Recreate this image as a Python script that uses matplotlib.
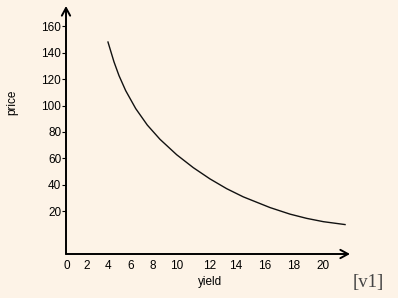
import numpy as np
import matplotlib
matplotlib.use("Agg")
import matplotlib.pyplot as plt

# price vs yield curve
yields = [3.97, 4.50, 4.94, 5.53, 6.44, 7.53, 8.63, 10.00, 11.02, 12.05,
          13.30, 14.50, 16.35, 17.77, 18.91, 20.04, 21.52]
prices = [148.1, 133.1, 122.7, 111.3, 97.7, 85.2, 74.4, 62.7, 52.9, 44.4,
          37.0, 30.8, 22.7, 17.7, 14.5, 12.0, 9.8]

x_ticks = [0, 2, 4, 6, 8, 10, 12, 14, 16, 18, 20]
y_ticks = [20, 40, 60, 80, 100, 120, 140, 160]

# the original spaces its x labels unevenly; keep that with a piecewise scale
x_map_vals = [-2, 0, 2, 4, 6, 8, 10, 12, 14, 16, 18, 20, 24]
x_map_pix = [46.7, 66.7, 86.7, 108.3, 131, 152.3, 176.7, 209.3, 236, 265, 293.3, 322.7, 381.5]

def fwd(x):
    return np.interp(x, x_map_vals, x_map_pix)

def inv(p):
    return np.interp(p, x_map_pix, x_map_vals)

BG = "#fdf3e7"
W, H = 398, 298

fig = plt.figure(figsize=(W / 100, H / 100), dpi=100, facecolor=BG)
ax = fig.add_axes([66 / W, (H - 254) / H, (350 - 66) / W, (254 - 6) / H])
ax.set_facecolor(BG)
ax.set_xscale("function", functions=(fwd, inv))
ax.set_xlim(inv(66), inv(350))
ax.set_ylim(-12.5, 175.4)

ax.plot(yields, prices, color="#111111", lw=1.0)

for s in ax.spines.values():
    s.set_visible(False)
arrow = dict(arrowstyle="->,head_length=0.55,head_width=0.3", lw=1.4, color="black",
             shrinkA=0, shrinkB=0)
ax.annotate("", xy=(1, 0), xytext=(0, 0), xycoords="axes fraction", arrowprops=arrow)
ax.annotate("", xy=(0, 1), xytext=(0, 0), xycoords="axes fraction", arrowprops=arrow)

ax.set_xticks(x_ticks)
ax.set_xticklabels([str(v) for v in x_ticks])
ax.set_yticks(y_ticks)
ax.set_yticklabels([str(v) for v in y_ticks])
ax.minorticks_off()
ax.tick_params(axis="x", length=0, pad=4, labelsize=8.5, labelfontfamily="Liberation Sans")
ax.tick_params(axis="y", length=3, width=0.8, pad=0.5, labelsize=8.5,
               labelfontfamily="Liberation Sans")

fig.text(12 / W, 1 - 102 / H, "price", rotation=90, ha="center", va="center",
         fontsize=8.5, family="Liberation Sans")
fig.text(210 / W, 1 - 282 / H, "yield", ha="center", va="center",
         fontsize=8.5, family="Liberation Sans")
fig.text(368 / W, 1 - 282 / H, "[v1]", ha="center", va="center",
         fontsize=13.5, family="Liberation Serif", color="#444444")

plt.savefig("out.png", dpi=100, facecolor=BG)
